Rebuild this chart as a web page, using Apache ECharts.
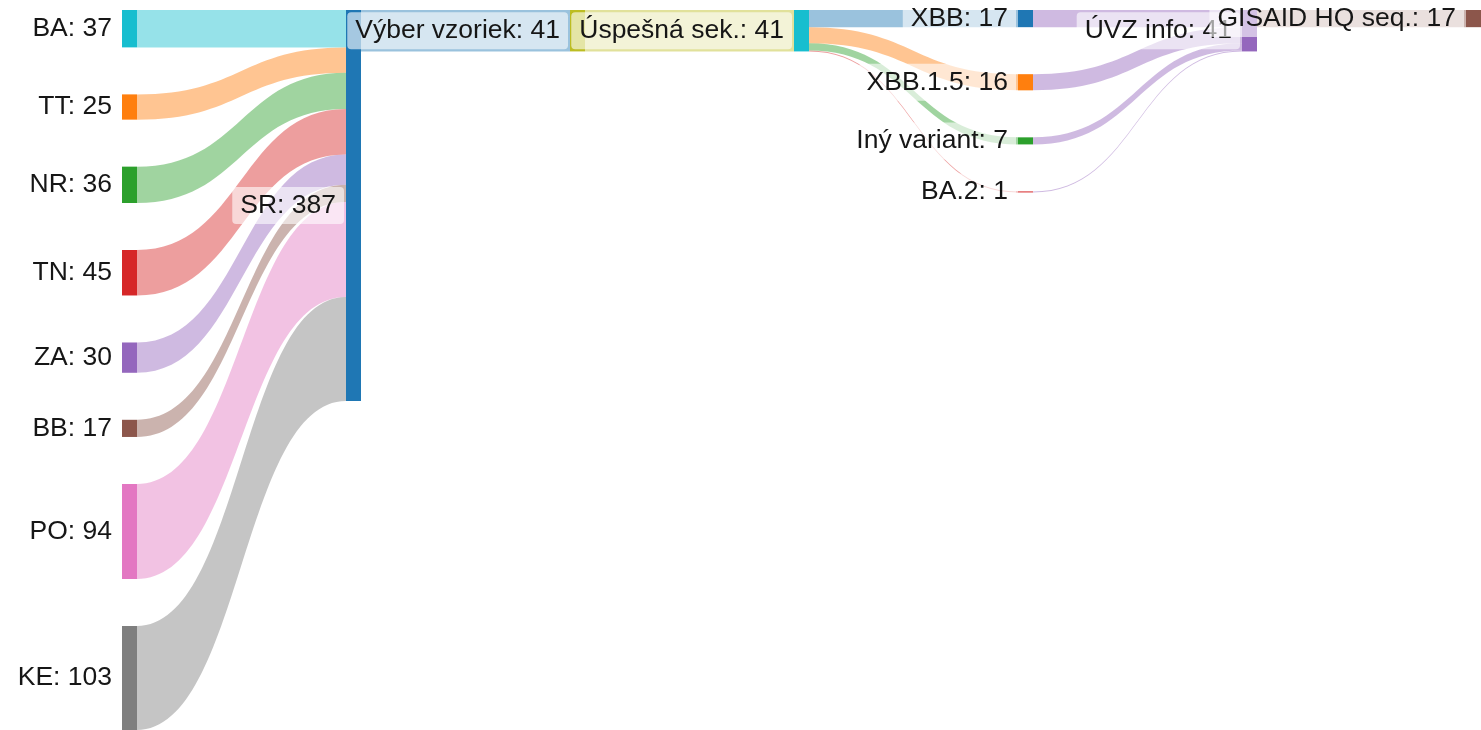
<!DOCTYPE html>
<html>
<head>
<meta charset="utf-8">
<title>Sankey</title>
<script src="https://cdn.jsdelivr.net/npm/echarts@6/dist/echarts.min.js"></script>
<style>
    html, body { margin: 0; padding: 0; background: #fff; }
    #chart { width: 1481px; height: 730px; }
</style>
</head>
<body>
<div id="chart"></div>
<script>
// uzly
const nodeNames = ['BA', 'TT', 'NR', 'TN', 'ZA', 'BB', 'PO', 'KE', 'SR', 'Výber vzoriek', 'Úspešná sek.',
    'XBB', 'XBB.1.5', 'Iný variant', 'BA.2', 'ÚVZ info', 'GISAID HQ seq.'];
const nodeColors = ['#17becf', '#ff7f0e', '#2ca02c', '#d62728', '#9467bd', '#8c564b', '#e377c2', '#7f7f7f',
    '#1f77b4', '#bcbd22', '#17becf', '#1f77b4', '#ff7f0e', '#2ca02c', '#d62728', '#9467bd', '#8c564b'];

// toky
const linkSources = ['BA', 'TT', 'NR', 'TN', 'ZA', 'BB', 'PO', 'KE', 'SR', 'Výber vzoriek',
    'Úspešná sek.', 'Úspešná sek.', 'Úspešná sek.', 'Úspešná sek.',
    'XBB', 'XBB.1.5', 'Iný variant', 'BA.2', 'ÚVZ info'];
const linkTargets = ['SR', 'SR', 'SR', 'SR', 'SR', 'SR', 'SR', 'SR', 'Výber vzoriek', 'Úspešná sek.',
    'XBB', 'XBB.1.5', 'Iný variant', 'BA.2',
    'ÚVZ info', 'ÚVZ info', 'ÚVZ info', 'ÚVZ info', 'GISAID HQ seq.'];
const linkValues = [37, 25, 36, 45, 30, 17, 94, 103, 41, 41, 17, 16, 7, 1, 17, 16, 7, 1, 17];
const linkColors = ['#17becf', '#ff7f0e', '#2ca02c', '#d62728', '#9467bd', '#8c564b', '#e377c2', '#7f7f7f',
    '#1f77b4', '#bcbd22', '#1f77b4', '#ff7f0e', '#2ca02c', '#d62728',
    '#9467bd', '#9467bd', '#9467bd', '#9467bd', '#8c564b'];

// hodnota uzla = max(vstup, výstup)
function nodeTotal(name) {
    let inSum = 0, outSum = 0;
    linkValues.forEach((v, i) => {
        if (linkTargets[i] === name) inSum += v;
        if (linkSources[i] === name) outSum += v;
    });
    return Math.max(inSum, outSum);
}

const chart = echarts.init(document.getElementById('chart'));

chart.setOption({
    animation: false,
    series: [{
        type: 'sankey',
        left: 122,
        right: 0,
        top: 10,
        bottom: 0,
        nodeWidth: 15,
        nodeGap: 47,
        layoutIterations: 0,   // poradie uzlov ako v dátach
        draggable: false,
        emphasis: { disabled: true },
        data: nodeNames.map((name, i) => ({
            name: name,
            value: nodeTotal(name),
            itemStyle: { color: nodeColors[i], borderWidth: 0 }
        })),
        links: linkValues.map((v, i) => ({
            source: linkSources[i],
            target: linkTargets[i],
            value: v,
            lineStyle: { color: linkColors[i] }
        })),
        lineStyle: {
            opacity: 0.45,
            curveness: 0.5
        },
        label: {
            position: 'left',
            distance: 2,
            fontFamily: 'Liberation Sans, Arial, sans-serif',
            fontSize: 26.5,
            color: '#161616',
            backgroundColor: 'rgba(255,255,255,0.6)',
            borderRadius: 4,
            padding: [5, 8],
            formatter: (p) => p.name + ': ' + nodeTotal(p.name)
        }
    }]
});
</script>
</body>
</html>
